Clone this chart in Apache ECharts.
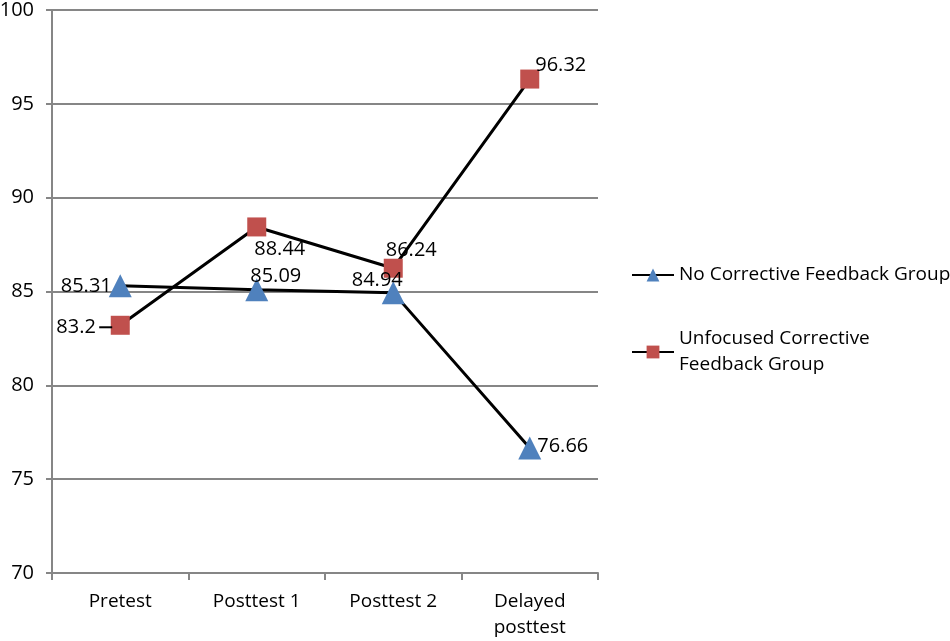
<!DOCTYPE html>
<html><head><meta charset="utf-8">
<script src="https://cdn.jsdelivr.net/npm/echarts@6/dist/echarts.min.js"></script>
<style>html,body{margin:0;padding:0;background:#fff}#c{width:950px;height:641px}</style>
</head><body><div id="c"></div>
<script>
const categories = ['Pretest', 'Posttest 1', 'Posttest 2', 'Delayed\nposttest'];
const seriesNames = ['No Corrective Feedback Group', 'Unfocused Corrective Feedback Group'];
const noFeedback = [85.31, 85.09, 84.94, 76.66];
const unfocused = [83.2, 88.44, 86.24, 96.32];
const yTicks = [70, 75, 80, 85, 90, 95, 100];

const FONT = 'Open Sans';
const FS = 19;
const NFS = 20;
const triOffsets = [[-34, 1], [19, -14], [-16, -12], [33, -2]];
const sqOffsets = [[-36, 2], [23, 22], [18, -18], [31, -14]];

function mkData(vals, offs, leaderIdx) {
  return vals.map((v, i) => ({
    value: v,
    label: {
      position: 'inside',
      offset: offs[i],
      formatter: i === leaderIdx ? '{t|' + v + '} {d|}' : '{t|' + v + '}'
    }
  }));
}
const richStyle = {
  t: { fontFamily: FONT, fontSize: NFS, color: '#000' },
  d: { width: 13, height: 2, backgroundColor: '#000' }
};

const chart = echarts.init(document.getElementById('c'), null, { renderer: 'canvas' });
chart.setOption({
  animation: false,
  backgroundColor: '#fff',
  grid: { left: 52, right: 352, top: 10, bottom: 68, containLabel: false, outerBoundsMode: 'none' },
  legend: {
    orient: 'vertical',
    left: 626,
    top: 257,
    itemWidth: 42,
    itemHeight: 16,
    itemGap: 38,
    textStyle: { fontFamily: FONT, fontSize: FS, color: '#000', lineHeight: 26 },
    formatter: n => n === seriesNames[1] ? 'Unfocused Corrective\nFeedback Group' : n,
    data: seriesNames
  },
  xAxis: {
    type: 'category',
    data: categories,
    boundaryGap: true,
    axisLine: { lineStyle: { color: '#868686', width: 2 } },
    axisTick: { show: true, length: 7, lineStyle: { color: '#868686', width: 2 } },
    axisLabel: { fontFamily: FONT, fontSize: FS, color: '#000', margin: 16, lineHeight: 26 }
  },
  yAxis: {
    type: 'value',
    min: 70, max: 100, interval: 5,
    axisLine: { show: true, lineStyle: { color: '#868686', width: 2 } },
    axisTick: { show: true, length: 6, lineStyle: { color: '#868686', width: 2 } },
    splitLine: { show: true, lineStyle: { color: '#868686', width: 2 } },
    axisLabel: { fontFamily: FONT, fontSize: NFS, color: '#000', margin: 18,
      formatter: v => yTicks.includes(v) ? String(v) : '' }
  },
  series: [
    {
      name: seriesNames[0], type: 'line',
      data: mkData(noFeedback, triOffsets, -1),
      symbol: 'triangle', symbolSize: 23,
      itemStyle: { color: '#4F81BD' },
      lineStyle: { color: '#000', width: 3 },
      label: { show: true, rich: richStyle },
      z: 3
    },
    {
      name: seriesNames[1], type: 'line',
      data: mkData(unfocused, sqOffsets, 0),
      symbol: 'rect', symbolSize: 19,
      itemStyle: { color: '#C0504D' },
      lineStyle: { color: '#000', width: 3 },
      label: { show: true, rich: richStyle },
      z: 2
    }
  ]
});
</script></body></html>
